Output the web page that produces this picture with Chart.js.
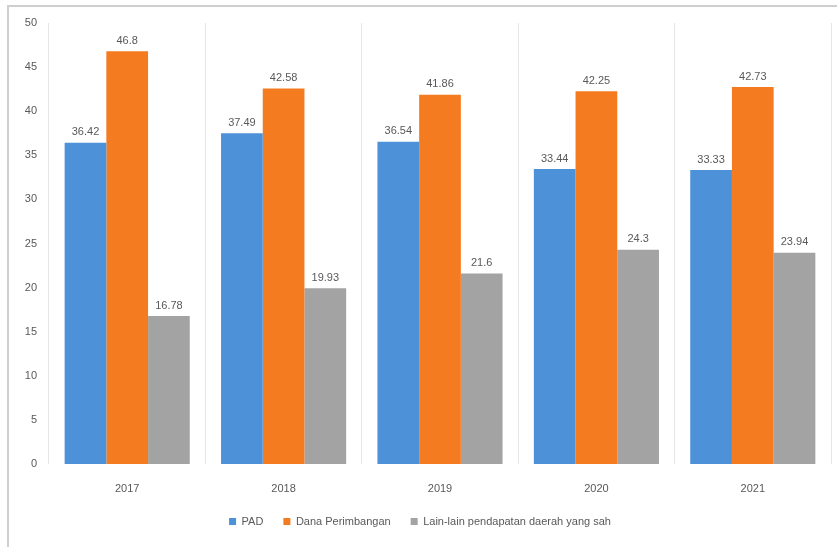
<!DOCTYPE html>
<html lang="id">
  <head>
    <meta charset="UTF-8" />
    <title>Komposisi Pendapatan Daerah 2017-2021</title>
    <script src="https://cdn.jsdelivr.net/npm/chart.js@4"></script>
    <style>
      body { margin: 0; background: #fff; }
      #wrap {
        position: absolute; left: 7px; top: 5px;
        width: 830px; height: 542px;
        border-top: 2px solid #cfcfcf; border-left: 2px solid #cfcfcf;
      }
    </style>
  </head>
  <body>
    <div id="wrap"><canvas id="myChart" width="830" height="542"></canvas></div>
    <script>
      // data
      const years = ["2017", "2018", "2019", "2020", "2021"];
      const pad = [36.42, 37.49, 36.54, 33.44, 33.33];
      const danaPerimbangan = [46.8, 42.58, 41.86, 42.25, 42.73];
      const lainLain = [16.78, 19.93, 21.6, 24.3, 23.94];

      const textColor = "#595959";

      // values printed over each bar
      const barLabels = {
        id: "barLabels",
        afterDatasetsDraw(chart) {
          const ctx = chart.ctx;
          ctx.save();
          ctx.font = "11px 'Liberation Sans', Arial, sans-serif";
          ctx.fillStyle = textColor;
          ctx.textAlign = "center";
          ctx.textBaseline = "bottom";
          chart.data.datasets.forEach((ds, i) => {
            chart.getDatasetMeta(i).data.forEach((bar, j) => {
              ctx.fillText(String(ds.data[j]), bar.x, bar.y - 5);
            });
          });
          ctx.restore();
        },
      };

      Chart.defaults.font.family = "'Liberation Sans', Arial, sans-serif";
      Chart.defaults.font.size = 11;
      Chart.defaults.color = textColor;

      const chart = new Chart(document.getElementById("myChart"), {
        type: "bar",
        data: {
          labels: years,
          datasets: [
            { label: "PAD", data: pad, backgroundColor: "#4d91d8" },
            { label: "Dana Perimbangan", data: danaPerimbangan, backgroundColor: "#f47b20" },
            { label: "Lain-lain pendapatan daerah yang sah", data: lainLain, backgroundColor: "#a3a3a3" },
          ],
        },
        options: {
          responsive: false,
          animation: false,
          layout: { padding: { top: 16, right: 8, left: 0, bottom: 12 } },
          datasets: { bar: { categoryPercentage: 0.8, barPercentage: 1 } },
          scales: {
            x: {
              grid: { color: "#e6e6e6", drawTicks: false },
              border: { display: false },
              ticks: { padding: 18 },
              afterFit: (axis) => { axis.height = 32; },
            },
            y: {
              min: 0,
              max: 50,
              ticks: { stepSize: 5, padding: 4 },
              grid: { display: false },
              border: { display: false },
              afterFit: (axis) => { axis.width = 40; },
            },
          },
          plugins: {
            legend: {
              position: "bottom",
              labels: { boxWidth: 7, boxHeight: 7, padding: 20, font: { size: 11 } },
            },
            tooltip: { enabled: false },
          },
        },
        plugins: [barLabels],
      });
    </script>
  </body>
</html>
